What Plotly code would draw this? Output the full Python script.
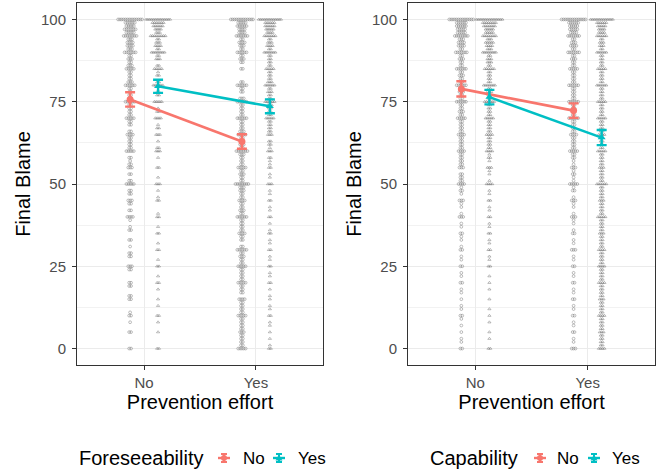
import plotly.graph_objects as go

# ---------------- data ----------------
categories = ["No", "Yes"]          # Prevention effort
group_levels = ["No", "Yes"]
legend_titles = ["Foreseeability", "Capability"]

# panel 1: Foreseeability
fore_means_no = [75.7, 62.9]
fore_means_yes = [79.7, 73.6]
fore_err_no = [2.2, 2.2]
fore_err_yes = [2.0, 2.1]

# panel 2: Capability
cap_means_no = [78.9, 72.3]
cap_means_yes = [76.4, 64.1]
cap_err_no = [2.3, 2.2]
cap_err_yes = [2.2, 2.3]

# raw responses as (value, count) for each strip
fore_no_effort_no = [(100,14),(99,6),(98,5),(97,7),(96,5),(95,8),(94,3),(93,4),(92,4),(91,3),(90,7),(89,2),(88,3),(87,2),(86,3),(85,5),(84,2),(83,2),(82,2),(81,3),(80,6),(79,2),(78,2),(77,2),(76,2),(75,6),(74,2),(73,2),(72,2),(71,2),(70,5),(69,2),(68,2),(66,2),(65,4),(64,2),(63,2),(62,2),(61,2),(60,5),(58,2),(57,1),(56,2),(55,3),(53,2),(51,2),(50,5),(48,2),(47,2),(45,3),(44,2),(42,2),(40,4),(39,1),(37,1),(36,2),(33,2),(31,1),(29,2),(28,2),(25,3),(24,2),(20,2),(19,2),(16,2),(15,2),(11,1),(10,2),(8,1),(5,2),(0,2)]
fore_yes_effort_no = [(100,14),(99,7),(98,6),(97,4),(96,3),(95,9),(94,2),(93,3),(92,4),(91,2),(90,8),(89,2),(88,3),(86,2),(85,5),(84,1),(83,2),(81,2),(80,6),(78,2),(77,2),(75,5),(73,1),(72,2),(70,4),(68,1),(67,2),(65,3),(63,1),(61,2),(60,3),(58,1),(55,2),(52,1),(50,3),(48,1),(46,1),(45,2),(41,1),(40,2),(37,1),(35,2),(32,1),(30,2),(27,1),(25,2),(22,1),(20,2),(18,1),(15,1),(13,1),(10,2),(8,1),(5,1),(0,2)]
fore_no_effort_yes = [(100,13),(99,5),(98,6),(97,4),(96,4),(95,7),(94,2),(93,4),(92,3),(91,2),(90,6),(89,2),(88,3),(87,2),(85,2),(81,2),(80,6),(79,2),(78,2),(76,3),(75,6),(74,2),(73,2),(72,2),(71,2),(70,6),(69,2),(68,2),(67,2),(66,3),(65,5),(64,2),(63,2),(62,3),(61,2),(60,7),(59,3),(58,2),(57,2),(56,2),(55,5),(54,2),(53,3),(52,2),(51,2),(50,8),(49,3),(48,3),(47,2),(46,2),(45,4),(44,2),(43,2),(42,3),(41,2),(40,6),(39,2),(38,2),(37,2),(36,2),(35,4),(34,2),(33,2),(31,2),(30,6),(29,2),(28,3),(27,2),(26,2),(25,5),(24,2),(23,2),(22,2),(21,2),(20,5),(19,2),(18,2),(17,2),(15,4),(14,2),(13,2),(12,2),(11,2),(10,5),(9,2),(8,2),(7,2),(6,2),(5,3),(4,2),(3,2),(2,2),(1,2),(0,5)]
fore_yes_effort_yes = [(100,13),(99,6),(98,6),(97,5),(96,4),(95,7),(94,2),(93,3),(92,4),(91,2),(90,7),(89,2),(88,2),(87,2),(86,2),(85,5),(84,2),(83,2),(82,2),(81,3),(80,6),(79,2),(78,3),(77,2),(76,2),(75,6),(74,3),(73,2),(72,2),(71,2),(70,5),(69,2),(68,2),(67,2),(66,2),(65,3),(63,2),(62,2),(61,1),(60,3),(58,2),(57,1),(56,1),(55,2),(53,1),(52,1),(50,3),(48,1),(47,1),(45,2),(43,1),(42,1),(40,2),(38,1),(36,1),(35,2),(33,1),(32,1),(30,2),(28,1),(27,1),(25,2),(23,1),(22,1),(20,2),(18,1),(16,1),(15,1),(13,1),(12,1),(10,2),(8,1),(7,1),(5,1),(3,1),(1,1),(0,2)]

cap_no_effort_no = [(100,14),(99,6),(98,6),(97,5),(96,5),(95,8),(94,3),(93,4),(92,4),(91,2),(90,7),(89,2),(88,3),(87,2),(86,2),(85,6),(84,2),(83,3),(82,2),(81,2),(80,6),(79,2),(78,3),(77,2),(76,2),(75,6),(74,2),(73,2),(72,3),(71,2),(70,5),(69,2),(68,2),(67,2),(66,2),(65,4),(64,2),(63,2),(62,2),(61,2),(60,4),(59,2),(58,2),(57,2),(56,2),(55,3),(53,2),(52,2),(51,2),(50,4),(49,1),(48,2),(47,1),(45,3),(44,1),(43,1),(41,1),(40,3),(38,1),(37,1),(35,2),(34,1),(33,1),(31,1),(30,2),(28,1),(27,1),(25,2),(23,1),(22,1),(20,2),(18,1),(17,1),(15,1),(13,1),(12,1),(10,2),(9,1),(7,1),(5,1),(3,1),(2,1),(0,2)]
cap_yes_effort_no = [(100,15),(99,8),(98,7),(97,5),(96,5),(95,8),(94,3),(93,5),(92,4),(91,3),(90,8),(89,2),(88,3),(87,3),(86,2),(85,6),(84,2),(83,2),(82,2),(81,2),(80,7),(79,2),(78,3),(77,2),(76,2),(75,6),(74,2),(73,2),(72,2),(71,2),(70,5),(69,2),(68,2),(67,2),(66,2),(65,4),(64,2),(63,2),(62,2),(61,2),(60,4),(59,1),(58,2),(57,1),(55,3),(54,1),(53,1),(51,1),(50,4),(48,1),(47,1),(45,2),(43,1),(42,1),(40,2),(38,1),(37,1),(35,2),(33,1),(32,1),(30,2),(28,1),(27,1),(25,2),(22,1),(20,1),(18,1),(15,1),(12,1),(10,1),(8,1),(5,1),(3,1),(0,2)]
cap_no_effort_yes = [(100,14),(99,6),(98,5),(97,5),(96,4),(95,7),(94,2),(93,3),(92,4),(91,2),(90,7),(89,2),(88,3),(87,2),(86,2),(85,5),(84,2),(83,2),(82,2),(81,2),(80,6),(79,2),(78,2),(77,2),(76,2),(75,6),(74,2),(73,2),(72,2),(71,2),(70,6),(69,2),(68,2),(67,2),(66,2),(65,4),(64,2),(63,2),(62,2),(61,2),(60,5),(59,2),(58,2),(57,1),(56,1),(55,3),(54,1),(53,2),(52,1),(51,1),(50,5),(49,1),(48,2),(46,1),(45,3),(44,1),(43,1),(41,1),(40,3),(39,1),(38,1),(36,1),(35,2),(33,1),(32,1),(30,3),(28,1),(27,1),(25,2),(23,1),(22,1),(20,2),(18,1),(17,1),(15,2),(13,1),(12,1),(10,2),(8,1),(7,1),(5,2),(3,1),(2,1),(0,3)]
cap_yes_effort_yes = [(100,13),(99,6),(98,5),(97,4),(96,4),(95,6),(94,2),(93,3),(92,3),(91,2),(90,6),(89,2),(88,2),(87,2),(86,2),(85,5),(84,2),(83,2),(82,2),(81,2),(80,6),(79,2),(78,2),(77,2),(76,2),(75,5),(74,2),(73,2),(72,2),(71,2),(70,5),(69,2),(68,2),(67,2),(66,2),(65,4),(64,2),(63,2),(62,2),(61,2),(60,5),(59,2),(58,2),(57,2),(56,2),(55,3),(54,2),(53,2),(52,2),(51,2),(50,6),(49,2),(48,2),(47,2),(46,2),(45,3),(44,2),(43,2),(42,2),(41,2),(40,5),(39,2),(38,2),(37,2),(36,2),(35,3),(34,2),(33,2),(32,2),(31,2),(30,4),(29,2),(28,2),(27,2),(26,2),(25,4),(24,2),(23,2),(22,2),(21,2),(20,4),(19,2),(18,2),(17,2),(16,2),(15,3),(14,2),(13,2),(12,2),(11,2),(10,4),(9,2),(8,2),(7,2),(6,2),(5,3),(4,2),(3,2),(2,2),(1,2),(0,4)]

# ---------------- style ----------------
RED = "#F8766D"
TEAL = "#00BFC4"
DOT = "rgba(100,100,100,0.6)"
FONT = "Liberation Sans, Arial, sans-serif"
DODGE = 0.125
SPACING = 0.0165   # horizontal spacing of swarm points (x units)

W, H = 660, 474
def px_x(a, b):
    return [a / W, b / W]
def px_y(top, bottom):
    return [(H - bottom) / H, (H - top) / H]

fig = go.Figure()


def swarm(strip, center):
    xs, ys = [], []
    for v, n in strip:
        for i in range(n):
            xs.append(center + (i - (n - 1) / 2) * SPACING)
            ys.append(v)
    return xs, ys


COLORS = [RED, TEAL]
SYM_DOT = ["circle-open", "triangle-up-open"]
SYM_MEAN = ["circle", "triangle-up"]


def add_panel(xa, ya, strips, means, errs):
    offsets = [-DODGE, DODGE]
    for g in range(2):
        for c in range(2):
            xs, ys = swarm(strips[g][c], (c + 1) + offsets[g])
            fig.add_trace(go.Scatter(
                x=xs, y=ys, mode="markers", xaxis=xa, yaxis=ya,
                marker=dict(symbol=SYM_DOT[g], size=2.8, color=DOT,
                            line=dict(width=0.7, color=DOT)),
                showlegend=False, hoverinfo="skip"))
    for g in range(2):
        xs = [c + 1 + offsets[g] for c in range(len(categories))]
        fig.add_trace(go.Scatter(
            x=xs, y=means[g], mode="lines+markers", xaxis=xa, yaxis=ya,
            line=dict(color=COLORS[g], width=2.6),
            marker=dict(symbol=SYM_MEAN[g], size=7, color=COLORS[g]),
            error_y=dict(type="data", array=errs[g], visible=True,
                         color=COLORS[g], thickness=2.4, width=5),
            showlegend=False, hoverinfo="skip"))


add_panel("x", "y",
          [[fore_no_effort_no, fore_no_effort_yes], [fore_yes_effort_no, fore_yes_effort_yes]],
          [fore_means_no, fore_means_yes], [fore_err_no, fore_err_yes])
add_panel("x2", "y2",
          [[cap_no_effort_no, cap_no_effort_yes], [cap_yes_effort_no, cap_yes_effort_yes]],
          [cap_means_no, cap_means_yes], [cap_err_no, cap_err_yes])

# ---- legends (keys drawn as paper-space shapes, text as annotations) ----
LEG_Y = 458
legend_layout = [  # title x, key centres, label x
    dict(title_x=77, keys=[224, 279], labels=[241, 296]),
    dict(title_x=428, keys=[540, 594], labels=[555, 610]),
]
annotations, shapes = [], []
def fx(p):
    return p / W
def fy(p):
    return (H - p) / H

for p, lay in enumerate(legend_layout):
    annotations.append(dict(text=legend_titles[p], x=fx(lay["title_x"]), y=fy(LEG_Y),
                            xref="paper", yref="paper", xanchor="left", yanchor="middle",
                            showarrow=False, font=dict(size=20, color="black", family=FONT)))
    for g in range(2):
        kx = lay["keys"][g]
        col = COLORS[g]
        shapes.append(dict(type="line", xref="paper", yref="paper", x0=fx(kx - 6), x1=fx(kx + 6),
                           y0=fy(LEG_Y), y1=fy(LEG_Y), line=dict(color=col, width=2.4)))
        shapes.append(dict(type="line", xref="paper", yref="paper", x0=fx(kx), x1=fx(kx),
                           y0=fy(LEG_Y - 4), y1=fy(LEG_Y + 4), line=dict(color=col, width=2)))
        for cy in (LEG_Y - 4, LEG_Y + 4):
            shapes.append(dict(type="line", xref="paper", yref="paper", x0=fx(kx - 3), x1=fx(kx + 3),
                               y0=fy(cy), y1=fy(cy), line=dict(color=col, width=2)))
        if g == 0:
            shapes.append(dict(type="circle", xref="paper", yref="paper", x0=fx(kx - 3), x1=fx(kx + 3),
                               y0=fy(LEG_Y - 3), y1=fy(LEG_Y + 3), fillcolor=col, line=dict(width=0)))
        else:
            path = "M {:.4f},{:.4f} L {:.4f},{:.4f} L {:.4f},{:.4f} Z".format(
                fx(kx - 3.5), fy(LEG_Y + 2.5), fx(kx + 3.5), fy(LEG_Y + 2.5), fx(kx), fy(LEG_Y - 3.5))
            shapes.append(dict(type="path", xref="paper", yref="paper", path=path,
                               fillcolor=col, line=dict(width=0)))
        annotations.append(dict(text=group_levels[g], x=fx(lay["labels"][g]), y=fy(LEG_Y),
                                xref="paper", yref="paper", xanchor="left", yanchor="middle",
                                showarrow=False, font=dict(size=17, color="black", family=FONT)))

xcommon = dict(range=[0.4, 2.6], tickmode="array", tickvals=[1, 2], ticktext=categories,
               showgrid=True, gridcolor="#EBEBEB", gridwidth=1, zeroline=False,
               showline=True, mirror=True, linecolor="#333333", linewidth=1,
               ticks="outside", ticklen=4, tickcolor="#333333",
               tickfont=dict(size=15, color="#4D4D4D", family=FONT),
               title=dict(text="Prevention effort", font=dict(size=20, color="black", family=FONT), standoff=2))
ycommon = dict(range=[-5, 105], tickmode="array", tickvals=[0, 25, 50, 75, 100],
               showgrid=True, gridcolor="#EBEBEB", gridwidth=1, zeroline=False,
               minor=dict(tickvals=[12.5, 37.5, 62.5, 87.5], showgrid=True, gridcolor="#F2F2F2", gridwidth=0.6, ticklen=0),
               showline=True, mirror=True, linecolor="#333333", linewidth=1,
               ticks="outside", ticklen=4, tickcolor="#333333", ticklabelstandoff=3,
               tickfont=dict(size=15, color="#4D4D4D", family=FONT),
               title=dict(text="Final Blame", font=dict(size=20, color="black", family=FONT), standoff=4))

fig.update_layout(
    width=W, height=H,
    margin=dict(l=0, r=0, t=0, b=0),
    paper_bgcolor="white", plot_bgcolor="white",
    font=dict(family=FONT),
    showlegend=False,
    xaxis=dict(domain=px_x(77, 323), anchor="y", **xcommon),
    yaxis=dict(domain=px_y(3, 365), anchor="x", **ycommon),
    xaxis2=dict(domain=px_x(408, 655), anchor="y2", **xcommon),
    yaxis2=dict(domain=px_y(3, 365), anchor="x2", **ycommon),
    annotations=annotations,
    shapes=shapes,
)

fig.write_html("out.html", config={"displayModeBar": False},
               post_script="document.body.style.margin='0';document.body.style.overflow='hidden';")
